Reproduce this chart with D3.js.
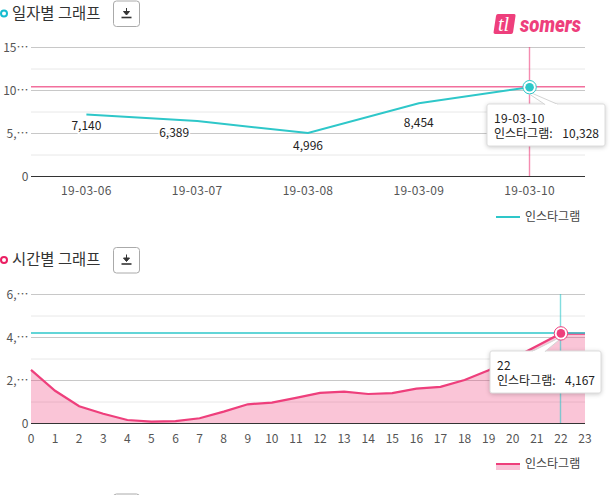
<!doctype html>
<html>

<head>
  <meta charset="utf-8">
  <title>Somers graphs</title>
  <script src="https://d3js.org/d3.v7.min.js"></script>
  <style>
    html, body { margin: 0; padding: 0; background: #fff; overflow: hidden; }
    svg { display: block; font-family: "Noto Sans CJK KR", "Noto Sans", sans-serif; }
    text { font-size: 12px; }
  </style>
</head>

<body>
  <svg id="chart" width="613" height="495"></svg>

  <script>
    const seriesName = '인스타그램';

    const dayTitle = '일자별 그래프';
    const dayLabels = ['19-03-06', '19-03-07', '19-03-08', '19-03-09', '19-03-10'];
    const dayValues = [7140, 6389, 4996, 8454, 10328];
    const dayTicks = [0, 5000, 10000, 15000];
    const dayTickLabels = ['0', '5,⋯', '10⋯', '15⋯'];
    const dayMinor = [2500, 7500, 12500];

    const hourTitle = '시간별 그래프';
    const hourLabels = d3.range(24).map(String);
    const hourValues = [2470, 1500, 780, 430, 140, 60, 90, 220, 530, 870, 950, 1170,
      1400, 1460, 1350, 1390, 1600, 1680, 2000, 2450, 3000, 3580, 4167, 4160];
    const hourTicks = [0, 2000, 4000, 6000];
    const hourTickLabels = ['0', '2,⋯', '4,⋯', '6,⋯'];
    const hourMinor = [1000, 3000, 5000];

    const teal = '#2ec7c9';
    const pink = '#ee3f7c';
    const fmt = d3.format(',');
    const svg = d3.select('#chart');

    const left = 31, right = 585;

    function heading(y, title, color) {
      svg.append('circle').attr('cx', 4).attr('cy', y).attr('r', 3)
        .attr('fill', '#fff').attr('stroke', color).attr('stroke-width', 2);
      svg.append('text').attr('x', 12).attr('y', y + 5).text(title)
        .style('font-size', '15.4px').attr('fill', '#333');
      button(y);
    }

    function button(y) {
      const g = svg.append('g').attr('transform', `translate(113.5,${y - 12.5})`);
      g.append('rect').attr('width', 26).attr('height', 25.5).attr('rx', 3)
        .attr('fill', '#fff').attr('stroke', '#aaa');
      g.append('path').attr('d', 'M13 7v5M10 10.5l3 3.5 3-3.5z').attr('stroke', '#333').attr('fill', '#333');
      g.append('path').attr('d', 'M8 16.5h10').attr('stroke', '#333').attr('stroke-width', 1.6);
    }

    function grid(y, ticks, minor, tickLabels) {
      svg.selectAll(null).data(minor).join('line')
        .attr('x1', left).attr('x2', right).attr('y1', d => y(d) + 0.5).attr('y2', d => y(d) + 0.5)
        .attr('stroke', '#e8e8e8');
      svg.selectAll(null).data(ticks.slice(1)).join('line')
        .attr('x1', left).attr('x2', right).attr('y1', d => y(d) + 0.5).attr('y2', d => y(d) + 0.5)
        .attr('stroke', '#c8c8c8');
      svg.selectAll(null).data(ticks).join('text')
        .attr('x', 28.5).attr('y', d => y(d) + 5).attr('text-anchor', 'end')
        .attr('fill', '#555').text((d, i) => tickLabels[i]);
    }

    function baseline(y) {
      svg.append('line').attr('x1', left).attr('x2', right)
        .attr('y1', y(0) + 0.5).attr('y2', y(0) + 0.5).attr('stroke', '#333');
    }

    function crosshair(px, py, top, bottom, color, weight) {
      svg.append('line').attr('x1', Math.floor(px) + 0.5).attr('x2', Math.floor(px) + 0.5).attr('y1', top).attr('y2', bottom)
        .attr('stroke', color).attr('stroke-width', 1.4).attr('stroke-opacity', 0.6);
      svg.append('line').attr('x1', left).attr('x2', right).attr('y1', py).attr('y2', py)
        .attr('stroke', color).attr('stroke-width', weight).attr('stroke-opacity', 0.75);
    }

    function marker(px, py, color) {
      svg.append('circle').attr('cx', px).attr('cy', py).attr('r', 6.7)
        .attr('fill', '#fff').attr('stroke', color).attr('stroke-width', 1);
      svg.append('circle').attr('cx', px).attr('cy', py).attr('r', 4.3).attr('fill', color);
    }

    function tooltip(px, py, x, y, w, h, baseFrom, baseTo, lines) {
      const g = svg.append('g');
      g.append('rect').attr('x', x).attr('y', y).attr('width', w).attr('height', h).attr('rx', 2)
        .attr('fill', '#fff').attr('stroke', '#ddd')
        .style('filter', 'drop-shadow(0 1px 2px rgba(0,0,0,0.2))');
      g.append('path')
        .attr('d', `M${x + baseFrom} ${y + 0.5}L${px - 3} ${py + 5}L${px} ${py + 5}L${x + baseTo} ${y + 0.5}`)
        .attr('fill', '#fff').attr('stroke', '#d4d4d4');
      g.append('path').attr('d', `M${x + baseFrom + 0.5} ${y + 0.8}L${x + baseTo - 0.5} ${y + 0.8}`)
        .attr('stroke', '#fff').attr('stroke-width', 1.5);
      g.append('text').attr('x', x + 7).attr('y', y + 19).attr('fill', '#222')
        .style('letter-spacing', '0.3px').text(lines[0]);
      g.append('text').attr('x', x + 7).attr('y', y + 34).attr('fill', '#222').text(lines[1]);
      g.append('text').attr('x', x + w - 6).attr('y', y + 34).attr('text-anchor', 'end').attr('fill', '#222').text(lines[2]);
    }

    function legend(y, color, isArea) {
      if (isArea) {
        svg.append('rect').attr('x', 496).attr('y', y).attr('width', 24).attr('height', 6)
          .attr('fill', '#f9c4d8');
      }
      svg.append('line').attr('x1', 496).attr('x2', 520).attr('y1', y).attr('y2', y)
        .attr('stroke', color).attr('stroke-width', 2);
      svg.append('text').attr('x', 525).attr('y', y + 4).attr('fill', '#444').text(seriesName);
    }

    // top chart
    heading(13.5, dayTitle, '#16bcd0');

    const logo = svg.append('g');
    logo.append('path').attr('d', 'M498 14h16q1.8 0 1.5 2l-2.4 16q-.3 2-2 2h-16q-1.8 0-1.5-2l2.4-16q.3-2 2-2z').attr('fill', pink);
    logo.append('text').attr('x', 498).attr('y', 31).attr('fill', '#fff')
      .style('font-family', '"Liberation Serif", serif').style('font-style', 'italic').style('font-size', '20px').text('tl');
    logo.append('text').attr('x', 520).attr('y', 32).attr('fill', pink)
      .attr('textLength', 61).attr('lengthAdjust', 'spacingAndGlyphs')
      .style('font-family', 'Roboto, sans-serif').style('font-style', 'italic').style('font-weight', '900').style('font-size', '22px').text('somers');

    const dayX = d3.scaleBand().domain(dayLabels).range([left, right]);
    const dayY = d3.scaleLinear().domain([0, 15000]).range([176, 47]);
    const dayPx = d => dayX(d) + dayX.bandwidth() / 2;

    grid(dayY, dayTicks, dayMinor, dayTickLabels);

    svg.selectAll(null).data(dayLabels).join('text')
      .attr('x', dayPx).attr('y', 195).attr('text-anchor', 'middle').attr('fill', '#555')
      .style('letter-spacing', '0.3px').text(d => d);

    const dayLine = d3.line().x((d, i) => dayPx(dayLabels[i])).y(d => dayY(d));
    svg.append('path').attr('d', dayLine(dayValues)).attr('fill', 'none').attr('stroke', teal).attr('stroke-width', 2);
    crosshair(dayPx(dayLabels[4]), dayY(dayValues[4]) - 0.5, 47, 176, pink, 1.5);
    baseline(dayY);

    // the value labels are nudged by the chart's own label layout
    const labelDx = [0, -23, 0, 0];
    const labelDy = [15, 16, 17, 24];
    svg.selectAll(null).data(dayValues.slice(0, 4)).join('text')
      .attr('x', (d, i) => dayPx(dayLabels[i]) + labelDx[i]).attr('y', (d, i) => dayY(d) + labelDy[i])
      .attr('text-anchor', 'middle').attr('fill', '#222')
      .style('paint-order', 'stroke').attr('stroke', '#fff').attr('stroke-width', 3)
      .text(d => fmt(d));

    tooltip(dayPx(dayLabels[4]), dayY(dayValues[4]), 487, 104, 118, 42, 58, 71, [dayLabels[4], seriesName + ':', fmt(dayValues[4])]);
    marker(dayPx(dayLabels[4]), dayY(dayValues[4]), teal);
    legend(217, teal, false);

    // bottom chart
    heading(260, hourTitle, '#ea1f63');

    const hourX = d3.scalePoint().domain(hourLabels).range([left, right]);
    const hourY = d3.scaleLinear().domain([0, 6000]).range([423, 294]);

    grid(hourY, hourTicks, hourMinor, hourTickLabels);

    svg.selectAll(null).data(hourLabels).join('text')
      .attr('x', d => hourX(d)).attr('y', 443).attr('text-anchor', 'middle').attr('fill', '#555').text(d => d);

    const hourArea = d3.area().x((d, i) => hourX(hourLabels[i])).y0(hourY(0)).y1(d => hourY(d));
    const hourLine = d3.line().x((d, i) => hourX(hourLabels[i])).y(d => hourY(d));
    svg.append('path').attr('d', hourArea(hourValues)).attr('fill', pink).attr('fill-opacity', 0.3);
    svg.append('path').attr('d', hourLine(hourValues)).attr('fill', 'none').attr('stroke', pink).attr('stroke-width', 2.2);
    crosshair(hourX('22'), hourY(hourValues[22]) - 0.5, 294, 423, teal, 2);
    baseline(hourY);

    tooltip(hourX('22'), hourY(hourValues[22]), 490, 351, 111, 42, 42, 55, ['22', seriesName + ':', fmt(hourValues[22])]);
    marker(hourX('22'), hourY(hourValues[22]), pink);
    legend(464, pink, true);

    // next section's button, cut off by the window
    button(506.5);
  </script>
</body>

</html>
